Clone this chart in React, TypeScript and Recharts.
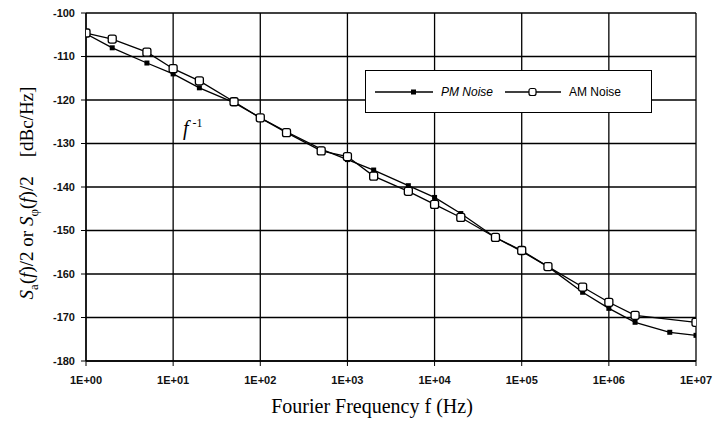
import React from 'react';
import { LineChart, Line, XAxis, YAxis, CartesianGrid } from 'recharts';

const freqs = [1, 2, 5, 10, 20, 50, 100, 200, 500, 1e3, 2e3, 5e3, 1e4, 2e4, 5e4, 1e5, 2e5, 5e5, 1e6, 2e6, 5e6, 1e7];
const pmNoise = [-104.8, -108, -111.5, -114, -117.2, -120.6, -124.1, -127.3, -131.3, -133.7, -136.1, -139.7, -142.4, -146.1, -151.6, -154.8, -158.3, -164.2, -167.9, -171.1, -173.4, -174.1];
const amNoise = [-104.6, -106, -109, -112.8, -115.6, -120.4, -124.1, -127.5, -131.7, -133.0, -137.5, -141.0, -144.0, -147.0, -151.6, -154.6, -158.3, -163.0, -166.5, -169.5, null, -171.1];

const xTicks = [1, 1e1, 1e2, 1e3, 1e4, 1e5, 1e6, 1e7];
const xTickLabels = ['1E+00', '1E+01', '1E+02', '1E+03', '1E+04', '1E+05', '1E+06', '1E+07'];
const yTicks = [-180, -170, -160, -150, -140, -130, -120, -110, -100];

const data = freqs.map((f, i) => ({ f, pm: pmNoise[i], am: amNoise[i] }));

const tickStyle = { fontSize: 11, fill: '#111', fontFamily: 'Liberation Sans, Arial, sans-serif', fontWeight: 600 };

const PmDot = (props: any) => {
  const { cx, cy, value } = props;
  if (value == null || cx == null) return null;
  return <rect x={cx - 2.5} y={cy - 2.5} width={5} height={5} fill="#000" />;
};

const AmDot = (props: any) => {
  const { cx, cy, value } = props;
  if (value == null || cx == null) return null;
  return <rect x={cx - 4} y={cy - 4} width={8} height={8} rx={2} fill="#fff" stroke="#000" strokeWidth={1.3} />;
};

const App: React.FC = () => {
  return (
    <div style={{ position: 'absolute', left: 0, top: 0, width: 713, height: 430, background: '#fff' }}>
      <LineChart width={713} height={430} data={data} margin={{ top: 13, right: 17, bottom: 39, left: 26 }}>
        <CartesianGrid stroke="#000" strokeWidth={1.3} horizontalValues={yTicks} verticalValues={xTicks} />
        <XAxis
          type="number"
          dataKey="f"
          scale="log"
          domain={[1, 1e7]}
          ticks={xTicks}
          tickFormatter={(v: number) => xTickLabels[xTicks.indexOf(v)] ?? ''}
          tick={tickStyle}
          tickLine={{ stroke: '#000' }}
          tickSize={5}
          tickMargin={10}
          axisLine={{ stroke: '#000', strokeWidth: 1.3 }}
          height={30}
          allowDataOverflow
        />
        <YAxis
          type="number"
          domain={[-180, -100]}
          ticks={yTicks}
          tick={tickStyle}
          tickLine={{ stroke: '#000' }}
          tickSize={5}
          tickMargin={6}
          axisLine={{ stroke: '#000', strokeWidth: 1.3 }}
          width={60}
          interval={0}
        />
        <Line dataKey="pm" stroke="#000" strokeWidth={1.3} dot={<PmDot />} activeDot={false} isAnimationActive={false} connectNulls />
        <Line dataKey="am" stroke="#000" strokeWidth={1.3} dot={<AmDot />} activeDot={false} isAnimationActive={false} connectNulls />
      </LineChart>

      {/* legend */}
      <div
        style={{
          position: 'absolute', left: 365, top: 70, width: 287, height: 43, boxSizing: 'border-box',
          border: '1.3px solid #000', background: '#fff', display: 'flex', alignItems: 'center',
          fontFamily: 'Liberation Sans, Arial, sans-serif', fontSize: 12, color: '#000',
        }}
      >
        <svg width={60} height={12} style={{ marginLeft: 9 }}>
          <line x1={0} y1={6} x2={58} y2={6} stroke="#000" strokeWidth={1.3} />
          <rect x={36} y={3.5} width={5} height={5} fill="#000" />
        </svg>
        <span style={{ marginLeft: 6, fontStyle: 'italic' }}>PM Noise</span>
        <svg width={58} height={12} style={{ marginLeft: 12 }}>
          <line x1={0} y1={6} x2={56} y2={6} stroke="#000" strokeWidth={1.3} />
          <rect x={24} y={2.5} width={7} height={7} rx={2} fill="#fff" stroke="#000" strokeWidth={1.2} />
        </svg>
        <span style={{ marginLeft: 6 }}>AM Noise</span>
      </div>

      {/* slope annotation */}
      <div style={{ position: 'absolute', left: 183, top: 116, fontFamily: 'Liberation Serif, serif', fontStyle: 'italic', fontSize: 20, color: '#000' }}>
        f<sup style={{ fontSize: 12, fontStyle: 'normal', marginLeft: 4 }}>-1</sup>
      </div>

      {/* y axis label */}
      <svg width={40} height={380} style={{ position: 'absolute', left: 8, top: 3 }}>
        <text
          transform="translate(25,190) rotate(-90)"
          textAnchor="middle"
          fontFamily="Liberation Serif, serif"
          fontSize={19}
          fill="#000"
          style={{ whiteSpace: 'pre' }}
        >
          <tspan fontStyle="italic">S</tspan>
          <tspan fontSize={13} dy={5}>a</tspan>
          <tspan dy={-5}>(</tspan>
          <tspan fontStyle="italic">f</tspan>
          <tspan>)/2 or </tspan>
          <tspan fontStyle="italic">S</tspan>
          <tspan fontSize={13} dy={5}>φ</tspan>
          <tspan dy={-5}>(</tspan>
          <tspan fontStyle="italic">f</tspan>
          <tspan>{')/2    [dBc/Hz]'}</tspan>
        </text>
      </svg>

      {/* x axis label */}
      <div style={{ position: 'absolute', left: 0, width: 744, top: 395, textAlign: 'center', fontFamily: 'Liberation Serif, serif', fontSize: 20, color: '#000' }}>
        Fourier Frequency f (Hz)
      </div>
    </div>
  );
};

export default App;
